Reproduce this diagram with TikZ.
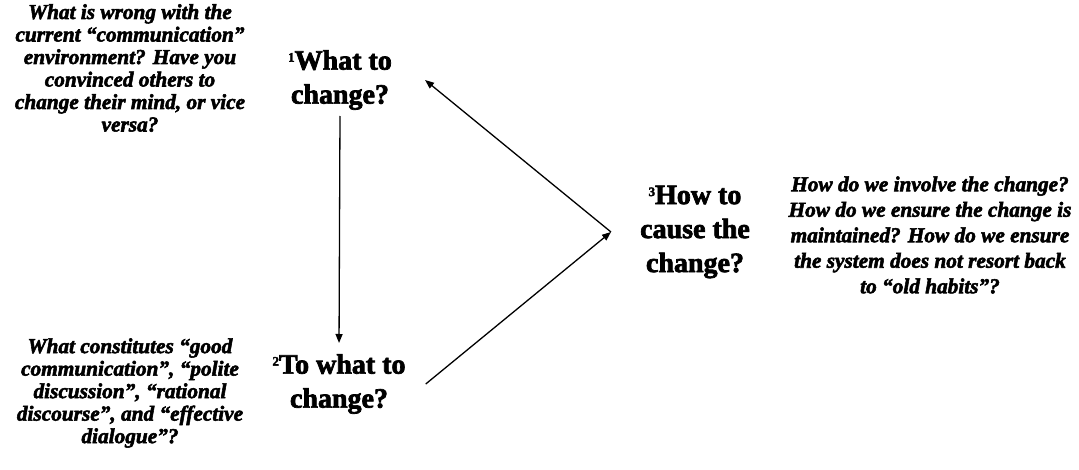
\documentclass[tikz,border=0pt]{standalone}
\usepackage{fontspec}
\setmainfont{Liberation Serif}
\newfontfamily\headfont[FakeBold=2.5]{Liberation Serif Bold}
\newfontfamily\notefont[FakeBold=2.5]{Liberation Serif Bold Italic}
\usetikzlibrary{arrows.meta}
\newcommand{\supnum}[1]{\raisebox{8pt}{\fontsize{13}{13}\selectfont #1}}
\tikzset{
  head/.style={align=center, inner sep=3pt, font=\headfont\fontsize{28}{34}\selectfont},
  note/.style={align=center, inner sep=0pt, font=\notefont\fontsize{21.3}{22.5}\selectfont},
  rnote/.style={align=center, inner sep=0pt, font=\notefont\fontsize{21.3}{25.5}\selectfont},
  arr/.style={line width=1.3pt, -{Triangle[length=9pt,width=7pt]}}
}
\begin{document}
\begin{tikzpicture}[x=1pt,y=-1pt]
\useasboundingbox (0,0) rectangle (1079,470);
\fill[white] (0,0) rectangle (1079,470);
\node[head] (n1) at (340,80) {\supnum{1}What to\\change?};
\node[head] (n2) at (339,384) {\supnum{2}To what to\\change?};
\node[head] (n3) at (695,232) {\supnum{3}How to\\cause the\\change?};
\node[note] (q1) at (130,68) {What is wrong with the\\current “communication”\\environment? Have you\\convinced others to\\change their mind, or vice\\versa?};
\node[note] (q2) at (130,393) {What constitutes “good\\communication”, “polite\\discussion”, “rational\\discourse”, and “effective\\dialogue”?};
\node[rnote] (q3) at (930,235) {How do we involve the change?\\How do we ensure the change is\\maintained?  How do we ensure\\the system does not resort back\\to  “old habits”?};
\coordinate (v) at ([xshift=-26pt]n3.west);
\draw[arr, shorten <=3pt, shorten >=8pt] (n1.south) -- (n2.north);
\draw[arr] (v) -- ([xshift=30pt]n1.east);
\draw[arr] ([xshift=17pt]n2.east) -- (v);
\end{tikzpicture}
\end{document}
